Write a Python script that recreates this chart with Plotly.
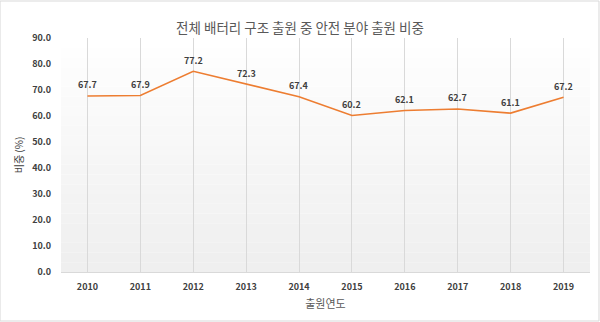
import plotly.graph_objects as go

years = ["2010", "2011", "2012", "2013", "2014", "2015", "2016", "2017", "2018", "2019"]
shares = [67.7, 67.9, 77.2, 72.3, 67.4, 60.2, 62.1, 62.7, 61.1, 67.2]
y_ticks = [0, 10, 20, 30, 40, 50, 60, 70, 80, 90]
title_text = "전체 배터리 구조 출원 중 안전 분야 출원 비중"
x_title = "출원연도"
y_title = "비중 (%)"

FONT = "Noto Sans CJK KR, Noto Sans, sans-serif"

fig = go.Figure()
fig.add_trace(go.Scatter(
    x=years, y=shares, mode="lines",
    line=dict(color="#ED7D31", width=1.6),
    showlegend=False, hoverinfo="x+y",
))

# category axis: annotation positions given as category index
annotations = [
    dict(x=i, y=v, xref="x", yref="y", text=f"{v:.1f}", showarrow=False,
         yshift=11, font=dict(size=9, color="#404040", family=FONT, weight=600))
    for i, v in enumerate(shares)
]

# subtle vertical gradient background in plot area
shapes = []
n = 24
for i in range(n):
    t = i / (n - 1)
    c = int(255 - 16 * (1 - t))
    shapes.append(dict(type="rect", xref="paper", yref="paper",
                       x0=0, x1=1, y0=i / n, y1=(i + 1) / n,
                       fillcolor=f"rgb({c},{c},{c})", line=dict(width=0), layer="below"))
# outer border
shapes.append(dict(type="rect", xref="paper", yref="paper",
                   x0=-61/529.5, x1=1 + 9/529.5, y0=-49/234, y1=1 + 37/234,
                   line=dict(color="#d9d9d9", width=1), fillcolor="rgba(0,0,0,0)"))

fig.update_layout(
    width=600, height=322,
    margin=dict(l=61, r=9.5, t=38, b=50),
    paper_bgcolor="white", plot_bgcolor="white",
    shapes=shapes, annotations=annotations,
    title=dict(text=title_text, x=0.5, xanchor="center", y=1 - 28/322, yanchor="middle",
               font=dict(size=13.5, color="#595959", family=FONT)),
    xaxis=dict(
        type="category", categoryorder="array", categoryarray=years,
        range=[-0.5, len(years) - 0.5],
        showgrid=True, gridcolor="#d9d9d9", gridwidth=1,
        showline=True, linecolor="#d9d9d9", ticks="", ticklabelstandoff=6,
        tickfont=dict(size=9, color="#404040", family=FONT, weight=600),
        title=dict(text=x_title, font=dict(size=11, color="#595959", family=FONT), standoff=8),
    ),
    yaxis=dict(
        range=[0, 90], tickvals=y_ticks, ticktext=[f"{v:.1f}" for v in y_ticks],
        showgrid=False, zeroline=False, showline=False, ticks="", ticklabelstandoff=9,
        tickfont=dict(size=9, color="#404040", family=FONT, weight=600),
        title=dict(text=y_title, font=dict(size=10, color="#404040", family=FONT), standoff=6),
    ),
)

fig.write_html("out.html")
